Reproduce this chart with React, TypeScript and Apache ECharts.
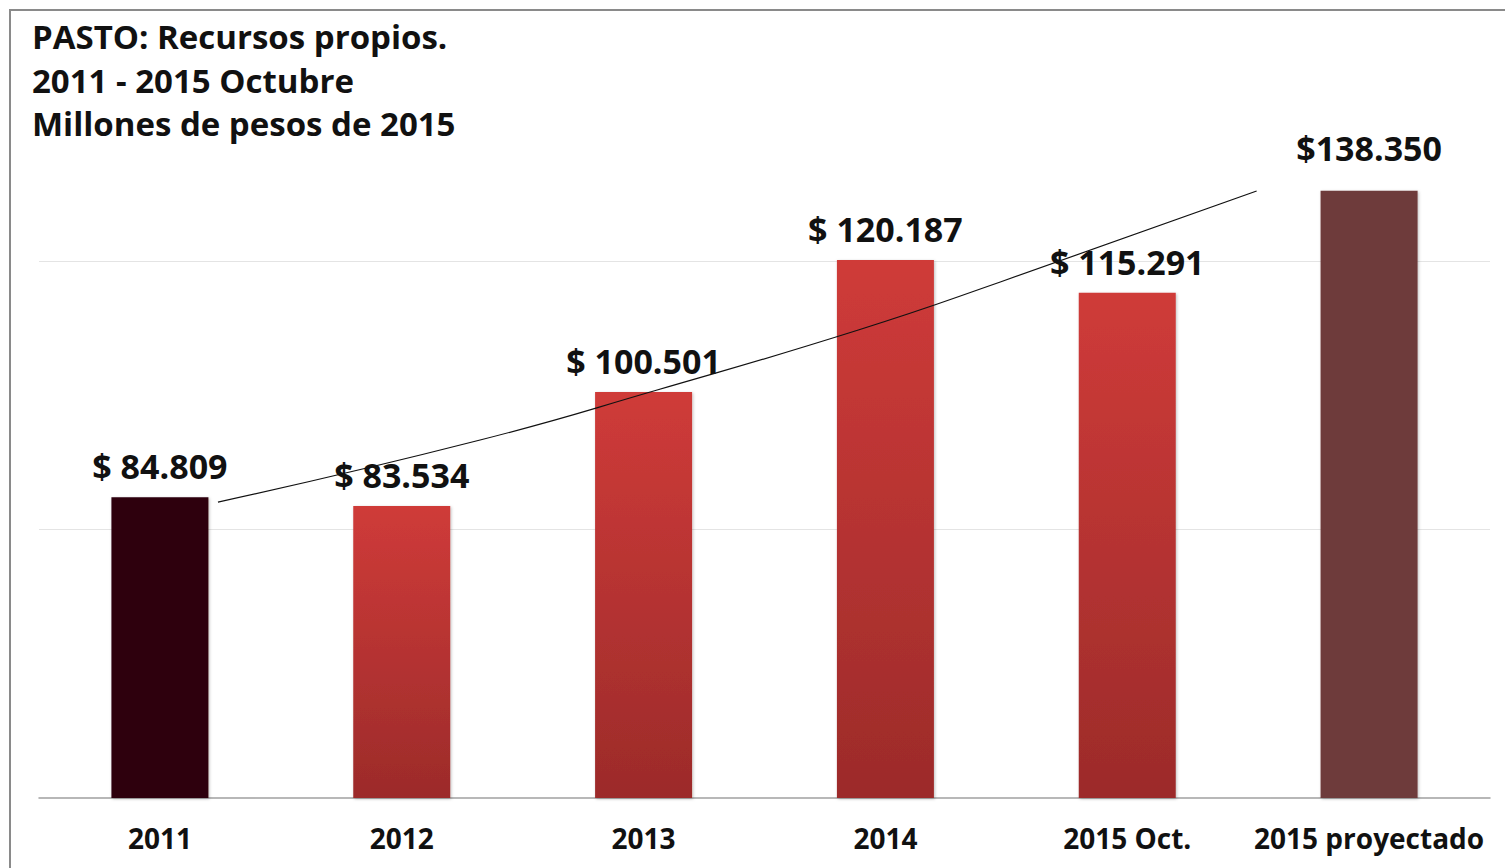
import React, { useEffect, useRef } from "react";
import * as echarts from "echarts";

const categories = ["2011", "2012", "2013", "2014", "2015 Oct.", "2015 proyectado"];
const barValues = [84.809, 83.534, 100.501, 120.187, 115.291, 130.5];
const barLabels = ["$ 84.809", "$ 83.534", "$ 100.501", "$ 120.187", "$ 115.291", "$138.350"];
// trend curve: [category position, value]
const trendPoints: [number, number][] = [
  [0.24, 84.1],
  [1.324, 93.35],
  [2.056, 100.8],
  [2.888, 109.75],
  [3.475, 116.9],
  [4.535, 130.46],
];
const titleLines = ["PASTO: Recursos propios.", "2011 - 2015 Octubre", "Millones de pesos de 2015"];

const FONT = "'Open Sans', 'Noto Sans', sans-serif";

export default function App() {
  const ref = useRef<HTMLDivElement>(null);
  useEffect(() => {
    if (!ref.current) return;
    const chart = echarts.init(ref.current, null, { renderer: "svg" });
    const red = new echarts.graphic.LinearGradient(0, 0, 0, 1, [
      { offset: 0, color: "#cf3b39" },
      { offset: 1, color: "#9c2b2a" },
    ]);
    const barColors: any[] = ["#2f040d", red, red, red, red, "#6e3a3a"];
    chart.setOption({
      animation: false,
      backgroundColor: "#ffffff",
      title: {
        text: titleLines.join("\n"),
        left: 32,
        top: 15,
        padding: 0,
        textStyle: {
          fontFamily: FONT,
          fontWeight: "bold",
          fontSize: 33,
          lineHeight: 43.5,
          color: "#111",
        },
      },
      graphic: [
        {
          type: "rect",
          shape: { x: 10, y: 10, width: 1510, height: 880 },
          style: { fill: "none", stroke: "#8a8a8a", lineWidth: 2 },
          silent: true,
        },
      ],
      grid: { left: 39, right: 15, top: 127, bottom: 70, containLabel: false },
      xAxis: [
        {
          type: "category",
          data: categories,
          axisLine: { show: true, lineStyle: { color: "#a0a0a0", width: 1.5 } },
          axisTick: { show: false },
          axisLabel: {
            interval: 0,
            margin: 26,
            fontFamily: FONT,
            fontWeight: "bold",
            fontSize: 28,
            color: "#111",
          },
        },
        {
          type: "value",
          min: -0.5,
          max: 5.5,
          show: false,
        },
      ],
      yAxis: {
        type: "value",
        min: 40,
        max: 140,
        interval: 40,
        axisLine: { show: false },
        axisTick: { show: false },
        axisLabel: { show: false },
        splitLine: {
          show: true,
          showMinLine: false,
          showMaxLine: false,
          lineStyle: { color: "#e4e4e4", width: 1 },
        },
      },
      series: [
        {
          type: "bar",
          xAxisIndex: 0,
          barWidth: 97,
          data: barValues.map((v, i) => ({
            value: v,
            itemStyle: { color: barColors[i] },
            label: {
              show: true,
              position: "top",
              distance: i === 5 ? 26 : 14,
              formatter: barLabels[i],
              fontFamily: FONT,
              fontWeight: "bold",
              fontSize: 34,
              color: "#111",
            },
          })),
          itemStyle: {
            shadowColor: "rgba(0,0,0,0.25)",
            shadowBlur: 3,
            shadowOffsetX: 1,
            shadowOffsetY: 1,
          },
          z: 2,
        },
        {
          type: "line",
          xAxisIndex: 1,
          data: trendPoints,
          smooth: true,
          showSymbol: false,
          symbol: "none",
          lineStyle: { color: "#111", width: 1.2 },
          z: 3,
        },
      ],
    });
    return () => chart.dispose();
  }, []);
  return (
    <div
      ref={ref}
      style={{ position: "absolute", left: 0, top: 0, width: 1505, height: 868 }}
    />
  );
}
